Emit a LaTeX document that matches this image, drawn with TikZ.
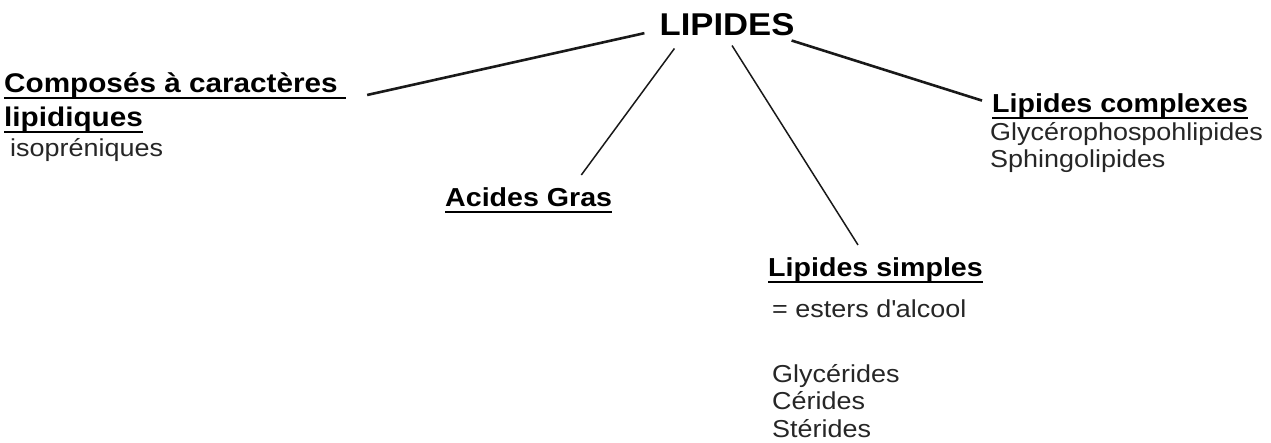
\documentclass[tikz,border=0pt]{standalone}
\usepackage{fontspec}
\setmainfont{Liberation Sans}[FakeStretch=1.1]
\newcommand{\souligne}[1]{\setbox0\hbox{#1}\rlap{\rule[-6pt]{\wd0}{2.4pt}}\box0}
\tikzset{
  titre/.style={font=\bfseries\fontsize{31.5}{36}\selectfont, inner sep=0pt, anchor=base},
  rubrique/.style={font=\bfseries\fontsize{26}{34}\selectfont, inner sep=0pt, anchor=base west, align=left},
  liste/.style={font=\fontsize{24.5}{27.5}\selectfont, text=black!85, inner sep=0pt, anchor=base west, align=left},
  trait/.style={line width=1.5pt, black!90},
  trait epais/.style={line width=2.6pt, black!90}
}
\begin{document}
\begin{tikzpicture}[x=1pt, y=1pt]
    \useasboundingbox (0,0) rectangle (1271,-443);

    % Title
    \node[titre] (lipides) at (727,-36) {LIPIDES};

    % Headings (multi-line nodes sit on their last baseline)
    \node[rubrique, font=\bfseries\fontsize{27}{34}\selectfont] (composes) at (4,-127)
        {\souligne{Composés à caractères\ }\\\souligne{lipidiques}};
    \node[rubrique] (acides) at (445,-207) {\souligne{Acides Gras}};
    \node[rubrique] (simples) at (768,-277) {\souligne{Lipides simples}};
    \node[rubrique] (complexes) at (992,-113) {\souligne{Lipides complexes}};

    % Lists
    \node[liste] (isopreniques) at (10,-157) {isopréniques};
    \node[liste] (esters) at (772,-318) {= esters d\textquotesingle alcool};
    \node[liste] (simpleslist) at (772,-437) {Glycérides\\Cérides\\Stérides};
    \node[liste] (complexeslist) at (990,-168) {Glycérophospohlipides\\Sphingolipides};

    % Connectors
    \draw[trait epais] ([shift={(-15,-8)}]lipides.west) -- ([shift={(21,-22)}]composes.north east);
    \draw[trait] ([shift={(15,-12)}]lipides.south west) -- ([shift={(-31,13)}]acides.north east);
    \draw[trait] ([shift={(5,-9)}]lipides.south) -- ([shift={(90,13)}]simples.north west);
    \draw[trait epais] ([shift={(-3,-4)}]lipides.south east) -- ([shift={(-10,6)}]complexes.west);
\end{tikzpicture}
\end{document}
